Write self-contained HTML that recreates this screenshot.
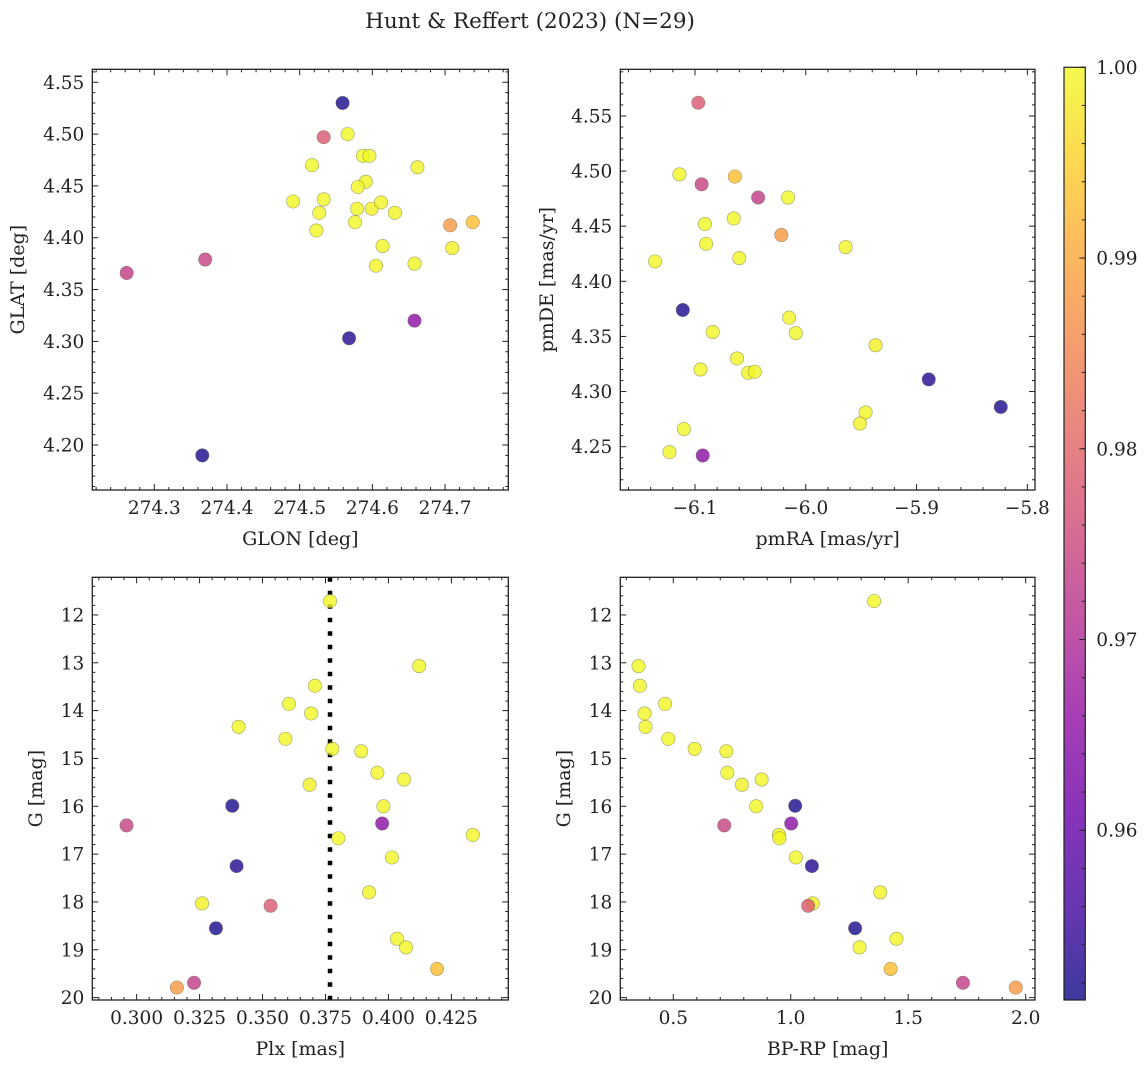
<!DOCTYPE html>
<html><head><meta charset="utf-8"><style>
html,body{margin:0;padding:0;background:#fff;}
svg text{font-family:"DejaVu Serif","Liberation Serif",serif;fill:#222;}
</style></head><body>
<svg id="fig" width="1148" height="1067" viewBox="0 0 1148 1067" xmlns="http://www.w3.org/2000/svg">
<defs>
<linearGradient id="plasmaGrad" x1="0" y1="1" x2="0" y2="0"></linearGradient>
</defs>
<text x="530" y="28" font-size="21.5" text-anchor="middle">Hunt &amp; Reffert (2023) (N=29)</text>
</svg>
<script>
// ---- data (per star) ----
const gmag = [11.71,13.07,13.48,13.86,14.06,14.34,14.59,14.80,14.85,15.30,15.44,15.55,15.99,16.00,16.36,16.40,16.60,16.67,17.07,17.25,17.80,18.03,18.08,18.55,18.77,18.95,19.40,19.69,19.79];
const plx = [0.3768,0.4122,0.3708,0.3605,0.3693,0.3405,0.3591,0.3777,0.3892,0.3956,0.4062,0.3687,0.3380,0.3980,0.3975,0.2960,0.4335,0.3801,0.4014,0.3397,0.3923,0.3260,0.3532,0.3315,0.4034,0.4070,0.4193,0.3228,0.3160];
const bprp = [1.355,0.352,0.358,0.465,0.378,0.382,0.479,0.591,0.726,0.730,0.876,0.792,1.019,0.853,1.002,0.717,0.950,0.952,1.022,1.090,1.381,1.094,1.074,1.274,1.450,1.293,1.425,1.733,1.958];
const prob = [1.0,1.0,1.0,1.0,0.9995,0.9995,0.9995,0.9995,0.9995,0.9995,0.9995,0.999,0.952,0.9995,0.965,0.974,0.9995,0.9995,0.9995,0.953,0.9995,0.999,0.978,0.952,0.9995,0.9995,0.993,0.973,0.988];
const glon = [274.566,274.587,274.596,274.517,274.662,274.591,274.580,274.491,274.533,274.527,274.579,274.599,274.559,274.612,274.658,274.370,274.631,274.576,274.523,274.568,274.614,274.710,274.533,274.366,274.605,274.658,274.738,274.262,274.707];
const glat = [4.500,4.479,4.479,4.470,4.468,4.454,4.449,4.435,4.437,4.424,4.428,4.428,4.530,4.434,4.320,4.379,4.424,4.415,4.407,4.303,4.392,4.390,4.497,4.190,4.373,4.375,4.415,4.366,4.412];
const pmra = [-6.114,-6.016,-6.091,-6.065,-5.964,-6.090,-6.136,-6.060,-6.084,-6.015,-6.009,-5.937,-6.111,-6.062,-6.093,-6.094,-6.095,-6.052,-6.046,-5.889,-5.946,-5.951,-6.097,-5.824,-6.110,-6.123,-6.064,-6.043,-6.022];
const pmde = [4.497,4.476,4.452,4.457,4.431,4.434,4.418,4.421,4.354,4.367,4.353,4.342,4.374,4.330,4.242,4.488,4.320,4.317,4.318,4.311,4.281,4.271,4.562,4.286,4.266,4.245,4.495,4.476,4.442];
const plxMean = [0.3768];
const cbTicks = [0.96,0.97,0.98,0.99,1.00];

const NS='http://www.w3.org/2000/svg';
const svg=document.getElementById('fig');
const plasma=[[0,'#0d0887'],[0.1,'#41049d'],[0.2,'#6a00a8'],[0.3,'#8f0da4'],[0.4,'#b12a90'],[0.5,'#cc4778'],[0.6,'#e16462'],[0.7,'#f2844b'],[0.8,'#fca636'],[0.9,'#fcce25'],[1,'#f0f921']];
const CMIN=0.9511, CMAX=1.0;
const TF=18.5, LF=19;
function hex(h){return [1,3,5].map(i=>parseInt(h.substr(i,2),16));}
function cmap(v){let t=Math.max(0,Math.min(1,(v-CMIN)/(CMAX-CMIN)));
 for(let i=0;i<plasma.length-1;i++){const a=plasma[i],b=plasma[i+1];
  if(t<=b[0]){const f=(t-a[0])/(b[0]-a[0]);const ca=hex(a[1]),cb=hex(b[1]);
   return 'rgb('+ca.map((c,k)=>Math.round(c+(cb[k]-c)*f)).join(',')+')';}}
 return plasma[plasma.length-1][1];}
function mk(tag,attrs,parent){const e=document.createElementNS(NS,tag);for(const k in attrs)e.setAttribute(k,attrs[k]);(parent||svg).appendChild(e);return e;}
function fmt(v,d){const s=Math.abs(v).toFixed(d);return (v<0?'\u2212':'')+s;}

const grad=document.getElementById('plasmaGrad');
plasma.forEach(p=>mk('stop',{offset:p[0],'stop-color':p[1]},grad));

function panel(cfg){
 const g=mk('g',{});
 
 
 const {L,R,T,B}=cfg;
 const sx=v=>L+(v-cfg.xmin)/(cfg.xmax-cfg.xmin)*(R-L);
 const sy=cfg.invert? v=>T+(v-cfg.ymin)/(cfg.ymax-cfg.ymin)*(B-T) : v=>B-(v-cfg.ymin)/(cfg.ymax-cfg.ymin)*(B-T);
 const tg=mk('g',{stroke:'#222','stroke-width':1},g);
 const eps=1e-9;
 function ticksFor(min,max,step,sub,isX){
  const lo=Math.min(min,max),hi=Math.max(min,max);
  const ms=step/sub;
  for(let k=Math.ceil(lo/ms-eps);k*ms<=hi+eps;k++){
   const v=k*ms;const major=Math.abs(v/step-Math.round(v/step))<1e-6;const len=major?6:3;
   if(isX){const x=sx(v);mk('line',{x1:x,x2:x,y1:B,y2:B-len},tg);mk('line',{x1:x,x2:x,y1:T,y2:T+len},tg);
     if(major){const t=mk('text',{x:x,y:B+24,'font-size':TF,'text-anchor':'middle'},g);t.textContent=fmt(v,cfg.xd);
       
       }}
   else{const y=sy(v);mk('line',{y1:y,y2:y,x1:L,x2:L+len},tg);mk('line',{y1:y,y2:y,x1:R,x2:R-len},tg);
     if(major){const t=mk('text',{x:L-8,y:y+6.5,'font-size':TF,'text-anchor':'end'},g);t.textContent=fmt(v,cfg.yd);
       
       }}
  }}
 ticksFor(cfg.xmin,cfg.xmax,cfg.xstep,5,true);
 ticksFor(cfg.ymin,cfg.ymax,cfg.ystep,5,false);
 if(cfg.vline){cfg.vline.forEach(v=>{const l=mk('line',{x1:sx(v),x2:sx(v),y1:T,y2:B,stroke:'#000','stroke-width':4.5,'stroke-dasharray':'4.5 9'},g);
  
  });}
 cfg.xs.forEach((_,i)=>{const c=mk('circle',{cx:sx(cfg.xs[i]),cy:sy(cfg.ys[i]),r:6.7,fill:cmap(prob[i]),'fill-opacity':0.8,stroke:'rgba(90,90,60,0.55)','stroke-width':0.6},g);
  
  });
 const fr=mk('rect',{x:L,y:T,width:R-L,height:B-T,fill:'none',stroke:'#222','stroke-width':1.3},g);
 
 
 const xl=mk('text',{x:(L+R)/2,y:B+55,'font-size':LF,'text-anchor':'middle'},g);xl.textContent=cfg.xlabel;
 
 
 const yl=mk('text',{x:0,y:0,'font-size':LF,'text-anchor':'middle',transform:'translate('+cfg.ylx+','+(T+B)/2+') rotate(-90)'},g);yl.textContent=cfg.ylabel;
 
 
}
panel({name:'glon-glat-panel',L:92.3,R:508.3,T:69.3,B:490,xmin:274.2147,xmax:274.787,ymin:4.1566,ymax:4.5625,xstep:0.1,ystep:0.05,xd:1,yd:2,xs:glon,ys:glat,xlabel:'GLON [deg]',ylabel:'GLAT [deg]',ylx:24});
panel({name:'pm-panel',L:620.3,R:1035,T:69.3,B:490,xmin:-6.1674,xmax:-5.7931,ymin:4.2107,ymax:4.5923,xstep:0.1,ystep:0.05,xd:1,yd:2,xs:pmra,ys:pmde,xlabel:'pmRA [mas/yr]',ylabel:'pmDE [mas/yr]',ylx:553});
panel({name:'plx-g-panel',L:92.3,R:508.3,T:577.3,B:1000,xmin:0.2824,xmax:0.4476,ymin:11.213,ymax:20.05,invert:true,xstep:0.025,ystep:1,xd:3,yd:0,xs:plx,ys:gmag,vline:plxMean,xlabel:'Plx [mas]',ylabel:'G [mag]',ylx:42});
panel({name:'cmd-panel',L:620.3,R:1035,T:577.3,B:1000,xmin:0.2745,xmax:2.0397,ymin:11.213,ymax:20.05,invert:true,xstep:0.5,ystep:1,xd:1,yd:0,xs:bprp,ys:gmag,xlabel:'BP-RP [mag]',ylabel:'G [mag]',ylx:570});

(function(){
 const L=1064,R=1085.3,T=67.3,B=1000;
 const g=mk('g',{});
 
 
 mk('rect',{x:L,y:T,width:R-L,height:B-T,fill:'url(#plasmaGrad)','fill-opacity':0.8},g);
 mk('rect',{x:L,y:T,width:R-L,height:B-T,fill:'none',stroke:'#222','stroke-width':1.2},g);
 const sy=v=>B-(v-CMIN)/(CMAX-CMIN)*(B-T);
 for(let k=Math.ceil(CMIN/0.002-1e-9);k*0.002<=CMAX+1e-9;k++){const v=k*0.002;const y=sy(v);mk('line',{x1:R,x2:R-3.5,y1:y,y2:y,stroke:'#222','stroke-width':1},g);}
 cbTicks.forEach(v=>{const y=sy(v);mk('line',{x1:R,x2:R-6,y1:y,y2:y,stroke:'#222','stroke-width':1},g);
  const t=mk('text',{x:R+11,y:y+6.5,'font-size':TF},g);t.textContent=v.toFixed(2);
  
  });
})();
</script>
</body></html>
